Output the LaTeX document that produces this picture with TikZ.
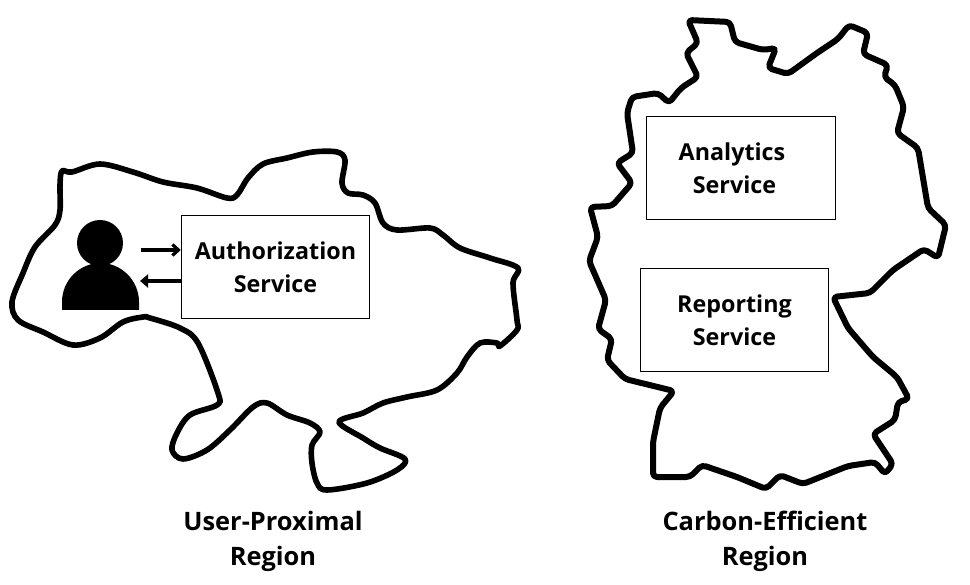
\documentclass[tikz,border=0pt]{standalone}
\usepackage{fontspec}
\setmainfont{Open Sans}
\usetikzlibrary{arrows.meta,positioning}

\begin{document}
\begin{tikzpicture}[x=1pt,y=-1pt,font=\fontsize{23.3}{33}\selectfont\bfseries,
  region/.style={line width=5.6pt,line join=round},
  servicebox/.style={draw,line width=1pt,align=center,minimum width=188.5pt,minimum height=103pt,inner sep=0pt},
  regionlabel/.style={align=center,font=\fontsize{25.4}{35}\selectfont\bfseries}]
\useasboundingbox (0,0) rectangle (970,585);
% user-proximal region
\draw[region] plot[smooth cycle,tension=0.55] coordinates {(62,171) (72,172) (100,164) (133,172) (163,182) (197,188) (227,198) (237,195) (248,178) (263,164) (287,158) (313,152) (337,152) (345,160) (342,183) (348,193) (363,195) (375,203) (383,223) (397,230) (430,228) (443,235) (460,248) (490,258) (518,268) (513,283) (517,320) (517,330) (500,346) (497,343) (480,343) (467,357) (457,373) (437,390) (407,397) (383,403) (363,413) (339,422) (363,438) (380,448) (405,459) (397,470) (367,483) (327,490) (317,483) (312,463) (312,445) (320,432) (310,423) (287,415) (267,403) (253,407) (230,430) (207,450) (183,459) (172,450) (177,433) (190,415) (217,405) (218,393) (198,343) (180,328) (150,318) (143,317) (123,322) (100,338) (73,345) (43,332) (18,320) (12,302) (23,273) (35,247) (55,225) (60,210) (60,185)};
% carbon-efficient region
\draw[region,line width=6pt,rounded corners=4pt] (688,20) -- (730,22) -- (735,42) -- (763,50) -- (776,48) -- (768,68) -- (788,74) -- (817,53) -- (838,39) -- (849,25) -- (868,33) -- (863,54) -- (888,65) -- (884,77) -- (895,85) -- (904,107) -- (897,133) -- (918,148) -- (928,208) -- (946,225) -- (938,258) -- (924,249) -- (893,270) -- (870,293) -- (833,297) -- (848,328) -- (873,357) -- (897,377) -- (909,399) -- (898,402) -- (895,420) -- (873,434) -- (893,464) -- (885,474) -- (875,462) -- (848,466) -- (803,484) -- (780,475) -- (766,489) -- (737,477) -- (702,465) -- (690,477) -- (653,477) -- (653,442) -- (660,408) -- (674,391) -- (625,379) -- (607,360) -- (612,339) -- (598,329) -- (606,300) -- (589,261) -- (598,237) -- (590,207) -- (612,206) -- (632,183) -- (617,163) -- (633,153) -- (627,113) -- (632,97) -- (658,93) -- (669,103) -- (681,88) -- (698,77) -- (686,53) -- (698,43) -- cycle;
\node[servicebox,fill=white] (auth) at (275.5,267) {Authorization\\Service};
\node[servicebox] (analytics) at (741,168.5) {Analytics\hspace*{18pt}\\Service\hspace*{13pt}};
\node[servicebox,fill=white] (reporting) at (734.5,320) {Reporting\\Service};
% user
\node[circle,fill=black,minimum size=46pt,inner sep=0pt] (head) at (100,243) {};
\fill (62,310) -- (62,302) .. controls (62,280) and (80,263) .. (100.5,263) .. controls (121,263) and (139,280) .. (139,302) -- (139,310) -- cycle;
\coordinate (userin) at (141,250);
\coordinate (userout) at (140,281);
\draw[-{Straight Barb[length=6pt,width=11pt]},line width=3.2pt] (userin) -- (userin -| auth.west);
\draw[-{Triangle[length=8pt,width=13pt]},line width=3.2pt] (auth.west |- userout) -- (userout);
\node[regionlabel] (userlabel) at (273,541) {User-Proximal\\Region};
\node[regionlabel] (carbonlabel) at (765,541) {Carbon-Efficient\\Region};
\end{tikzpicture}
\end{document}
